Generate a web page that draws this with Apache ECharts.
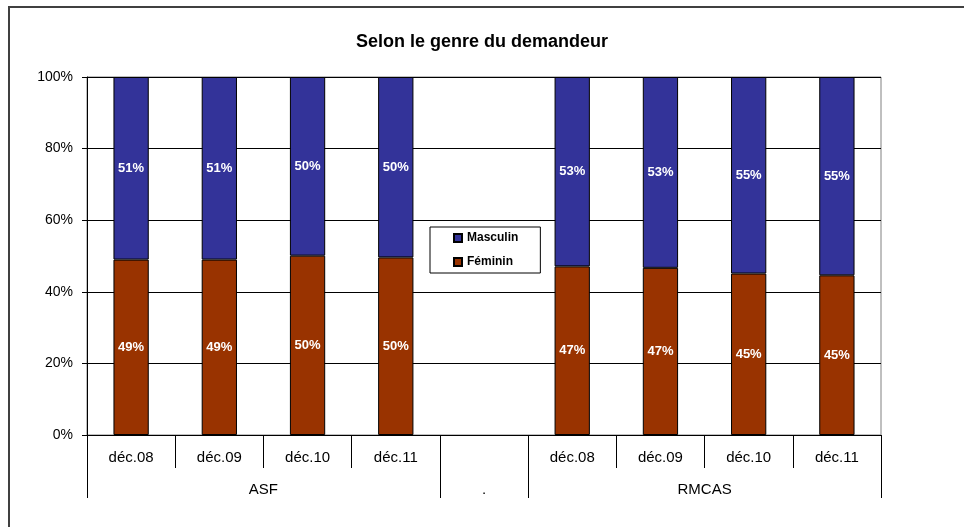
<html>
<head>
  <meta charset="utf-8">
  <script src="https://cdn.jsdelivr.net/npm/echarts@6/dist/echarts.min.js"></script>
  <style>
    body { margin: 0; background: #fff; }
    #main { width: 964px; height: 527px; }
  </style>
</head>
<body>
<div id="main"></div>
<script type="text/javascript">
  const categories = ["déc.08", "déc.09", "déc.10", "déc.11", "", "déc.08", "déc.09", "déc.10", "déc.11"]
  const groupLabels = ["ASF", ".", "RMCAS"]
  const groupSizes = [4, 1, 4]
  const feminin = [49.0, 49.0, 50.1, 49.6, "-", 47.1, 46.7, 45.1, 44.6]
  const masculin = [51.0, 51.0, 49.9, 50.4, "-", 52.9, 53.3, 54.9, 55.4]
  const yTicks = [0, 20, 40, 60, 80, 100]

  const font = "Arial, 'Liberation Sans', sans-serif"

  // second level axis: half-slot points, group label in the middle of each group
  let groupAxis = new Array(categories.length * 2 + 1).fill("")
  let groupTicks = [0]
  let pos = 0
  groupSizes.forEach((n, i) => {
    groupAxis[pos + n] = groupLabels[i]
    pos += n * 2
    groupTicks.push(pos)
  })

  let myChart = echarts.init(document.getElementById("main"))

  let option = {
    animation: false,
    backgroundColor: "#fff",
    textStyle: { fontFamily: font },
    title: {
      text: "Selon le genre du demandeur",
      left: "center",
      top: 28,
      textStyle: { fontSize: 18, fontWeight: "bold", color: "#000", fontFamily: font }
    },
    graphic: [{
      type: "rect",
      shape: { x: 9, y: 7, width: 1000, height: 600 },
      style: { fill: "none", stroke: "#404040", lineWidth: 2 },
      silent: true
    }],
    legend: {
      orient: "vertical",
      left: 430,
      top: 227,
      data: ["Masculin", "Féminin"],
      icon: "rect",
      itemWidth: 8,
      itemHeight: 8,
      itemGap: 10,
      padding: [4, 22, 4, 23],
      backgroundColor: "#fff",
      borderColor: "#000",
      borderWidth: 1,
      textStyle: { fontSize: 12, fontWeight: "bold", color: "#000", lineHeight: 14, fontFamily: font }
    },
    grid: {
      left: 87,
      right: 83,
      top: 77,
      bottom: 92,
      show: true,
      borderColor: "#808080",
      borderWidth: 1
    },
    xAxis: [
      {
        type: "category",
        data: categories,
        axisLine: { lineStyle: { color: "#000", width: 1 } },
        axisTick: { show: true, alignWithLabel: false, interval: 0, length: 33, lineStyle: { color: "#000" } },
        axisLabel: { interval: 0, margin: 15, fontSize: 15, color: "#000", fontFamily: font }
      },
      {
        type: "category",
        position: "bottom",
        boundaryGap: false,
        data: groupAxis,
        axisLine: { show: false },
        axisTick: {
          show: true,
          length: 63,
          interval: idx => groupTicks.includes(idx),
          lineStyle: { color: "#000" }
        },
        axisLabel: {
          interval: idx => groupAxis[idx] !== "",
          margin: 47,
          fontSize: 15,
          color: "#000",
          fontFamily: font
        }
      }
    ],
    yAxis: {
      type: "value",
      min: yTicks[0],
      max: yTicks[yTicks.length - 1],
      interval: 20,
      axisLine: { show: true, lineStyle: { color: "#000" } },
      axisTick: { show: true, length: 5, lineStyle: { color: "#000" } },
      axisLabel: { formatter: "{value}%", margin: 14, fontSize: 14, color: "#000", fontFamily: font },
      splitLine: { lineStyle: { color: "#000", width: 1 } }
    },
    series: [
      {
        name: "Féminin",
        type: "bar",
        stack: "total",
        barWidth: "40%",
        data: feminin,
        itemStyle: { color: "#993300", borderColor: "#000", borderWidth: 1 },
        label: {
          show: true,
          position: "inside",
          color: "#fff",
          fontWeight: "bold",
          fontSize: 13,
          fontFamily: font,
          formatter: p => Math.round(p.value) + "%"
        }
      },
      {
        name: "Masculin",
        type: "bar",
        stack: "total",
        barWidth: "40%",
        data: masculin,
        itemStyle: { color: "#333399", borderColor: "#000", borderWidth: 1 },
        label: {
          show: true,
          position: "inside",
          color: "#fff",
          fontWeight: "bold",
          fontSize: 13,
          fontFamily: font,
          formatter: p => Math.round(p.value) + "%"
        }
      }
    ]
  }

  myChart.setOption(option)
</script>
</body>
</html>
